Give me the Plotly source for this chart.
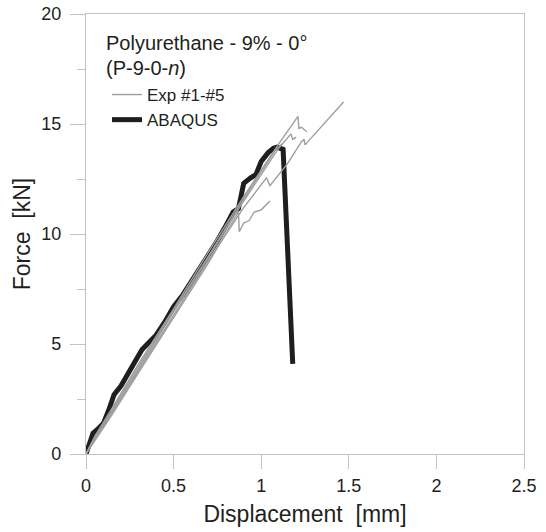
import plotly.graph_objects as go

# ---- data ----
abaqus_d = [0, 0.02, 0.04, 0.07, 0.10, 0.13, 0.16, 0.20, 0.24, 0.28, 0.32, 0.36, 0.40, 0.45, 0.50, 0.55, 0.60,
            0.65, 0.70, 0.75, 0.80, 0.84, 0.87, 0.90, 0.94, 0.97, 1.00, 1.04, 1.07, 1.09, 1.125, 1.18]
abaqus_f = [0, 0.5, 0.95, 1.15, 1.4, 2.0, 2.7, 3.1, 3.6, 4.2, 4.75, 5.05, 5.4, 6.0, 6.7, 7.2, 7.8,
            8.45, 9.1, 9.7, 10.4, 11.0, 11.15, 12.3, 12.55, 12.7, 13.3, 13.7, 13.9, 13.95, 13.85, 4.1]

exp1_d = [0, 0.05, 0.15, 0.30, 0.50, 0.70, 0.90, 1.03, 1.05, 1.15, 1.23, 1.245, 1.25, 1.47]
exp1_f = [0, 0.7, 1.9, 3.8, 6.3, 8.8, 11.2, 12.55, 12.2, 13.2, 14.2, 14.3, 14.05, 16.0]

exp2_d = [0, 0.05, 0.15, 0.30, 0.50, 0.70, 0.90, 1.00, 1.10, 1.21, 1.215, 1.23, 1.26]
exp2_f = [0, 0.8, 2.1, 4.1, 6.6, 9.2, 11.7, 12.9, 14.1, 15.35, 14.8, 14.85, 14.65]

exp3_d = [0, 0.05, 0.15, 0.30, 0.50, 0.70, 0.87, 0.875, 0.90, 0.93, 0.96, 1.00, 1.05]
exp3_f = [0, 0.6, 1.8, 3.7, 6.2, 8.7, 11.0, 10.1, 10.5, 10.6, 11.0, 11.1, 11.5]

exp4_d = [0, 0.05, 0.15, 0.30, 0.50, 0.70, 0.90, 1.00, 1.08, 1.12]
exp4_f = [0, 0.75, 2.0, 4.0, 6.5, 9.0, 11.6, 12.8, 13.8, 14.1]

exp5_d = [0, 0.05, 0.15, 0.30, 0.50, 0.70, 0.90, 1.00, 1.10, 1.17, 1.18, 1.20]
exp5_f = [0, 0.7, 1.95, 3.9, 6.45, 8.95, 11.5, 12.7, 13.9, 14.55, 14.3, 14.4]

exp_d = [exp1_d, exp2_d, exp3_d, exp4_d, exp5_d]
exp_f = [exp1_f, exp2_f, exp3_f, exp4_f, exp5_f]

x_ticks = [0, 0.5, 1, 1.5, 2, 2.5]
x_ticktext = ["0", "0.5", "1", "1.5", "2", "2.5"]
y_ticks = [0, 5, 10, 15, 20]

FONT = "Liberation Sans, Arial, sans-serif"
TXT = "#231f20"
AX = "#c3c3c3"

L, R, T, B = 86, 22, 14, 78
PW, PH = 546 - L - R, 532 - T - B

fig = go.Figure()

fig.add_trace(go.Scatter(x=abaqus_d, y=abaqus_f, mode="lines", name="ABAQUS",
                         line=dict(color="#1e1e1e", width=5), legendrank=2))
for i, (d, f) in enumerate(zip(exp_d, exp_f)):
    fig.add_trace(go.Scatter(x=d, y=f, mode="lines", name="Exp #1-#5",
                             line=dict(color="#9e9e9e", width=1.4),
                             showlegend=(i == 0), legendgroup="exp", legendrank=1))

fig.update_layout(
    width=546, height=532,
    margin=dict(l=L, r=R, t=T, b=B),
    plot_bgcolor="white", paper_bgcolor="white",
    font=dict(family=FONT, color=TXT, size=18),
    showlegend=True,
    legend=dict(x=(107 - L) / PW, y=1 - (77 - T) / PH, xanchor="left", yanchor="top",
                bgcolor="rgba(0,0,0,0)", font=dict(size=17, family=FONT, color=TXT),
                tracegroupgap=0, itemwidth=30),
    xaxis=dict(range=[0, 2.5], tickvals=x_ticks, ticktext=x_ticktext, showgrid=False, zeroline=False,
               showline=True, linecolor=AX, linewidth=1.3, mirror=True, automargin=False,
               ticks="outside", ticklen=14, tickcolor=AX, tickwidth=1.3,
               ticklabelstandoff=1, tickfont=dict(size=18),
               title=dict(text="Displacement\u00a0 [mm]", font=dict(size=23), standoff=11)),
    yaxis=dict(range=[0, 20], tickvals=y_ticks, showgrid=False, zeroline=False,
               showline=True, linecolor=AX, linewidth=1.3, mirror=True, automargin=False,
               ticks="outside", ticklen=15, tickcolor=AX, tickwidth=1.3,
               ticklabelstandoff=5, tickfont=dict(size=18),
               minor=dict(dtick=2.5, tick0=0, ticks="outside", ticklen=8, tickcolor=AX, tickwidth=1.3, showgrid=False),
               title=dict(text="Force\u00a0 [kN]", font=dict(size=23), standoff=4)),
)

fig.add_annotation(x=(104 - L) / PW, y=1 - (43 - T) / PH, xref="paper", yref="paper",
                   xanchor="left", yanchor="middle", showarrow=False,
                   text="Polyurethane - 9% - 0°", font=dict(size=20, family=FONT, color=TXT))
fig.add_annotation(x=(104 - L) / PW, y=1 - (68 - T) / PH, xref="paper", yref="paper",
                   xanchor="left", yanchor="middle", showarrow=False,
                   text="(P-9-0-<i>n</i>)", font=dict(size=20, family=FONT, color=TXT))

fig.write_html("out.html")
